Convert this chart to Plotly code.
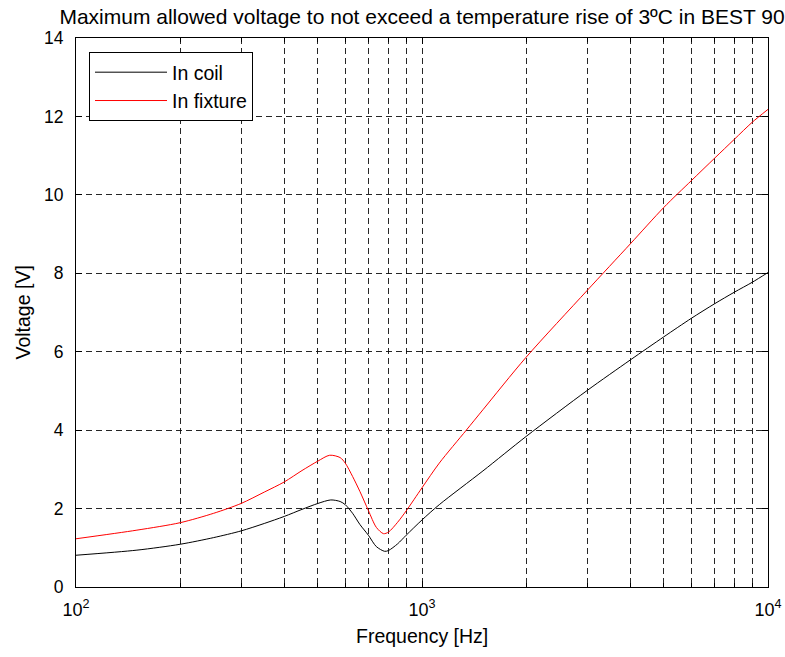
import plotly.graph_objects as go

freq_coil = [100, 150, 200, 250, 300, 350, 400, 450, 500, 545, 580, 600, 630, 662,
             700, 738, 780, 800, 850, 900, 1000, 1122, 1500, 2000, 3000, 4000, 5000,
             6000, 7000, 8000, 9000, 10000]
v_coil = [0.81, 0.94, 1.09, 1.26, 1.43, 1.62, 1.80, 1.98, 2.13, 2.22, 2.18, 2.10, 1.88, 1.59,
          1.32, 1.03, 0.91, 0.93, 1.10, 1.32, 1.71, 2.10, 2.96, 3.84, 5.01, 5.79, 6.38,
          6.85, 7.22, 7.52, 7.77, 8.02]

freq_fixture = [100, 150, 200, 250, 300, 350, 400, 450, 500, 541, 580, 600, 630, 662,
                700, 738, 774, 800, 850, 900, 1000, 1122, 1343, 1500, 2000, 3000, 4000, 5000,
                6000, 7000, 8000, 9000, 10000]
v_fixture = [1.23, 1.45, 1.64, 1.88, 2.13, 2.42, 2.68, 2.97, 3.21, 3.36, 3.30, 3.16, 2.82, 2.43,
             1.95, 1.52, 1.36, 1.40, 1.65, 1.94, 2.53, 3.16, 4.00, 4.52, 5.86, 7.56, 8.75, 9.68,
             10.36, 10.93, 11.42, 11.85, 12.18]

x_major = [100, 1000, 10000]
x_major_text = ["10<sup>2</sup>", "10<sup>3</sup>", "10<sup>4</sup>"]
x_minor = [200, 300, 400, 500, 600, 700, 800, 900,
           2000, 3000, 4000, 5000, 6000, 7000, 8000, 9000]
y_ticks = [0, 2, 4, 6, 8, 10, 12, 14]

FONT = "Liberation Sans, Arial, Helvetica, sans-serif"
GRID = "rgba(0,0,0,0.85)"
DASH = "6px,4px"

L, R, T, B = 76, 17, 38, 70
W, H = 785, 657
PW, PH = W - L - R, H - T - B

fig = go.Figure()
fig.add_trace(go.Scatter(x=freq_coil, y=v_coil, mode="lines", name="In coil",
                         line=dict(color="black", width=1, shape="spline", smoothing=0.8)))
fig.add_trace(go.Scatter(x=freq_fixture, y=v_fixture, mode="lines", name="In fixture",
                         line=dict(color="#ff0000", width=1, shape="spline", smoothing=0.8)))

fig.update_layout(
    width=W, height=H,
    margin=dict(l=L, r=R, t=T, b=B, autoexpand=False),
    paper_bgcolor="white", plot_bgcolor="white",
    font=dict(family=FONT, size=18, color="black"),
    title=dict(text="Maximum allowed voltage to not exceed a temperature rise of 3ºC in BEST 90",
               x=(L + PW / 2) / W, xanchor="center", y=1 - 17 / H, yanchor="middle",
               yref="container", font=dict(size=21, family=FONT)),
    showlegend=True,
    legend=dict(x=(89 - L) / PW, y=1 - (52 - T) / PH, xanchor="left", yanchor="top",
                bordercolor="black", borderwidth=1, bgcolor="white",
                font=dict(size=19.5, family=FONT), itemwidth=72, tracegroupgap=0),
    annotations=[
        dict(text="Frequency [Hz]", x=0.5, xref="paper", y=(H - B - 636) / PH, yref="paper",
             xanchor="center", yanchor="middle", showarrow=False, font=dict(size=19.5, family=FONT)),
        dict(text="Voltage [V]", x=(22 - L) / PW, xref="paper", y=0.5, yref="paper", textangle=-90,
             xanchor="center", yanchor="middle", showarrow=False, font=dict(size=19.5, family=FONT)),
    ],
)

fig.update_xaxes(
    type="log", range=[2, 4], automargin=False,
    tickvals=x_major, ticktext=x_major_text,
    ticks="inside", ticklen=6, tickcolor="black", ticklabelstandoff=6,
    showline=True, linecolor="black", linewidth=1, mirror="allticks",
    showgrid=True, gridcolor=GRID, griddash=DASH, gridwidth=1,
    minor=dict(tickvals=x_minor, ticks="inside", ticklen=4, tickcolor="black",
               showgrid=True, gridcolor=GRID, griddash=DASH, gridwidth=1),
    zeroline=False,
    tickfont=dict(size=18, family=FONT),
)
fig.update_yaxes(
    range=[0, 14], tickvals=y_ticks, automargin=False,
    ticks="inside", ticklen=6, tickcolor="black", ticklabelstandoff=8,
    showline=True, linecolor="black", linewidth=1, mirror="allticks",
    showgrid=True, gridcolor=GRID, griddash=DASH, gridwidth=1,
    zeroline=False,
    tickfont=dict(size=17.5, family=FONT),
)

fig.write_html("out.html")
